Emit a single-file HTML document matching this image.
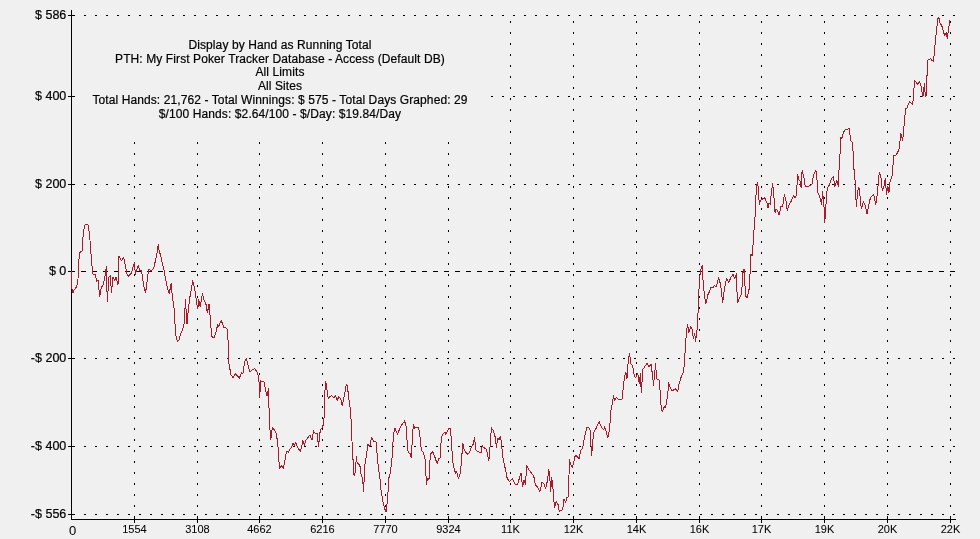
<!DOCTYPE html><html><head><meta charset="utf-8"><style>html,body{margin:0;padding:0;background:#f0f0f0;}svg{display:block;will-change:transform;}text{font-family:"Liberation Sans",sans-serif;font-size:12px;fill:#000;stroke:#000;stroke-width:0.2px;}.yl{font-size:12.5px;}.xl{font-size:11px;stroke-width:0.05px;}.tl{letter-spacing:0.1px;}</style></head><body>
<svg width="980" height="539" viewBox="0 0 980 539">
<rect x="0" y="0" width="980" height="539" fill="#f0f0f0"/>
<g shape-rendering="crispEdges"><line x1="134.5" y1="21" x2="134.5" y2="508" stroke="#000" stroke-width="1" stroke-dasharray="2 9"/><line x1="197.5" y1="21" x2="197.5" y2="508" stroke="#000" stroke-width="1" stroke-dasharray="2 9"/><line x1="259.5" y1="21" x2="259.5" y2="508" stroke="#000" stroke-width="1" stroke-dasharray="2 9"/><line x1="322.5" y1="21" x2="322.5" y2="508" stroke="#000" stroke-width="1" stroke-dasharray="2 9"/><line x1="385.5" y1="21" x2="385.5" y2="508" stroke="#000" stroke-width="1" stroke-dasharray="2 9"/><line x1="448.5" y1="21" x2="448.5" y2="508" stroke="#000" stroke-width="1" stroke-dasharray="2 9"/><line x1="510.5" y1="21" x2="510.5" y2="508" stroke="#000" stroke-width="1" stroke-dasharray="2 9"/><line x1="573.5" y1="21" x2="573.5" y2="508" stroke="#000" stroke-width="1" stroke-dasharray="2 9"/><line x1="636.5" y1="21" x2="636.5" y2="508" stroke="#000" stroke-width="1" stroke-dasharray="2 9"/><line x1="699.5" y1="21" x2="699.5" y2="508" stroke="#000" stroke-width="1" stroke-dasharray="2 9"/><line x1="761.5" y1="21" x2="761.5" y2="508" stroke="#000" stroke-width="1" stroke-dasharray="2 9"/><line x1="824.5" y1="21" x2="824.5" y2="508" stroke="#000" stroke-width="1" stroke-dasharray="2 9"/><line x1="887.5" y1="21" x2="887.5" y2="508" stroke="#000" stroke-width="1" stroke-dasharray="2 9"/><line x1="950.5" y1="21" x2="950.5" y2="508" stroke="#000" stroke-width="1" stroke-dasharray="2 9"/><line x1="84" y1="15.5" x2="956" y2="15.5" stroke="#000" stroke-width="1" stroke-dasharray="2 9"/><line x1="84" y1="96.5" x2="956" y2="96.5" stroke="#000" stroke-width="1" stroke-dasharray="2 9"/><line x1="84" y1="184.5" x2="956" y2="184.5" stroke="#000" stroke-width="1" stroke-dasharray="2 9"/><line x1="84" y1="358.5" x2="956" y2="358.5" stroke="#000" stroke-width="1" stroke-dasharray="2 9"/><line x1="84" y1="446.5" x2="956" y2="446.5" stroke="#000" stroke-width="1" stroke-dasharray="2 9"/><line x1="84" y1="514.5" x2="956" y2="514.5" stroke="#000" stroke-width="1" stroke-dasharray="2 9"/><line x1="81" y1="271.5" x2="956" y2="271.5" stroke="#000" stroke-width="1" stroke-dasharray="5 6"/></g>
<rect x="72" y="17" width="414" height="123" fill="#f0f0f0"/>
<g shape-rendering="crispEdges"><line x1="71.5" y1="10" x2="71.5" y2="520" stroke="#000" stroke-width="1"/><line x1="71" y1="519.5" x2="956" y2="519.5" stroke="#000" stroke-width="1"/><line x1="68" y1="15.5" x2="75" y2="15.5" stroke="#000" stroke-width="1"/><line x1="68" y1="96.5" x2="75" y2="96.5" stroke="#000" stroke-width="1"/><line x1="68" y1="184.5" x2="75" y2="184.5" stroke="#000" stroke-width="1"/><line x1="68" y1="271.5" x2="75" y2="271.5" stroke="#000" stroke-width="1"/><line x1="68" y1="358.5" x2="75" y2="358.5" stroke="#000" stroke-width="1"/><line x1="68" y1="446.5" x2="75" y2="446.5" stroke="#000" stroke-width="1"/><line x1="68" y1="514.5" x2="75" y2="514.5" stroke="#000" stroke-width="1"/><line x1="134.5" y1="516" x2="134.5" y2="523" stroke="#000" stroke-width="1"/><line x1="197.5" y1="516" x2="197.5" y2="523" stroke="#000" stroke-width="1"/><line x1="259.5" y1="516" x2="259.5" y2="523" stroke="#000" stroke-width="1"/><line x1="322.5" y1="516" x2="322.5" y2="523" stroke="#000" stroke-width="1"/><line x1="385.5" y1="516" x2="385.5" y2="523" stroke="#000" stroke-width="1"/><line x1="448.5" y1="516" x2="448.5" y2="523" stroke="#000" stroke-width="1"/><line x1="510.5" y1="516" x2="510.5" y2="523" stroke="#000" stroke-width="1"/><line x1="573.5" y1="516" x2="573.5" y2="523" stroke="#000" stroke-width="1"/><line x1="636.5" y1="516" x2="636.5" y2="523" stroke="#000" stroke-width="1"/><line x1="699.5" y1="516" x2="699.5" y2="523" stroke="#000" stroke-width="1"/><line x1="761.5" y1="516" x2="761.5" y2="523" stroke="#000" stroke-width="1"/><line x1="824.5" y1="516" x2="824.5" y2="523" stroke="#000" stroke-width="1"/><line x1="887.5" y1="516" x2="887.5" y2="523" stroke="#000" stroke-width="1"/><line x1="950.5" y1="516" x2="950.5" y2="523" stroke="#000" stroke-width="1"/></g>
<path d="M71.0 271.0 L71.0 276.0 L71.5 287.0 L73.0 292.7 L74.2 289.6 L76.2 287.5 L77.0 285.0 L78.2 277.3 L79.3 252.7 L81.3 251.6 L82.3 250.6 L83.3 232.0 L84.9 225.0 L86.0 224.6 L88.0 224.6 L89.5 234.0 L90.5 246.5 L91.5 261.0 L92.5 271.0 L93.0 274.3 L95.5 274.3 L96.6 281.4 L98.0 280.0 L99.7 296.7 L101.2 287.6 L103.0 285.5 L104.8 277.3 L106.3 266.6 L107.3 301.8 L108.9 277.3 L110.4 275.3 L111.4 292.7 L113.0 277.3 L115.0 280.4 L116.0 277.3 L118.0 284.5 L119.0 256.0 L121.6 260.8 L123.7 257.0 L127.2 275.3 L128.2 276.3 L131.3 273.3 L134.4 262.3 L135.4 274.3 L138.4 265.0 L139.5 271.0 L141.5 270.2 L143.6 285.5 L145.6 292.7 L147.6 277.3 L148.7 269.2 L151.0 271.0 L153.8 268.2 L155.8 258.8 L157.3 251.6 L158.3 244.0 L159.4 253.7 L160.4 253.7 L161.9 261.0 L162.9 266.0 L164.0 270.2 L165.6 279.4 L167.1 286.5 L169.2 293.7 L171.2 283.5 L171.7 290.6 L173.3 302.9 L174.3 310.1 L175.3 329.5 L176.3 338.7 L177.9 341.2 L179.4 339.7 L180.4 333.6 L182.0 331.5 L184.0 324.4 L185.5 299.8 L186.5 318.0 L187.0 324.4 L188.0 313.0 L189.6 298.8 L191.1 290.6 L192.7 280.4 L193.7 284.5 L195.2 291.6 L196.7 302.9 L197.8 309.0 L198.8 299.8 L200.3 307.0 L202.3 293.7 L203.9 299.8 L205.9 303.9 L207.4 313.0 L209.0 303.9 L210.5 320.3 L211.5 335.6 L212.6 337.7 L214.0 337.7 L216.1 331.5 L217.7 324.4 L218.7 326.4 L221.2 320.3 L223.8 327.4 L225.3 327.4 L227.3 329.5 L228.4 345.8 L228.7 362.3 L230.2 370.5 L230.7 374.6 L233.3 377.7 L235.3 373.6 L237.3 375.6 L239.4 378.2 L241.4 372.6 L243.0 373.6 L244.5 362.3 L246.5 358.3 L248.1 365.4 L249.6 372.0 L251.6 370.5 L254.7 368.5 L256.7 371.5 L258.8 377.7 L259.3 387.9 L259.6 398.0 L260.8 380.7 L261.8 381.7 L263.9 381.7 L265.4 388.9 L266.9 396.0 L268.5 388.9 L268.8 403.3 L269.8 427.8 L270.8 440.0 L272.3 427.8 L274.2 429.8 L275.9 432.9 L276.9 437.9 L277.8 443.3 L278.8 460.6 L279.8 468.8 L281.3 465.7 L283.4 468.3 L284.9 460.6 L286.4 451.4 L288.5 452.4 L290.5 448.4 L292.0 446.3 L293.1 443.3 L294.6 445.3 L295.6 442.2 L297.7 447.3 L300.2 451.4 L301.7 447.3 L302.8 440.2 L304.3 445.3 L305.8 440.2 L309.9 435.1 L311.9 440.2 L313.5 431.0 L315.0 433.1 L317.0 433.1 L318.6 446.3 L320.3 429.8 L322.3 427.8 L323.9 422.7 L324.5 399.7 L325.5 381.3 L326.5 384.4 L327.6 395.6 L328.6 398.7 L329.6 396.6 L331.6 395.6 L333.7 397.7 L335.7 395.6 L337.2 400.7 L338.8 396.6 L340.8 398.7 L342.3 405.8 L343.9 397.7 L345.4 389.5 L346.4 384.4 L347.4 386.4 L348.5 395.6 L349.5 404.8 L350.4 408.4 L351.4 425.7 L352.0 441.4 L352.8 455.5 L353.8 474.9 L354.8 475.9 L355.6 465.0 L356.6 456.7 L357.1 462.9 L358.7 463.9 L360.2 466.9 L361.2 475.2 L362.8 478.3 L363.3 491.5 L364.3 478.3 L364.8 465.9 L366.3 455.7 L367.9 444.5 L369.9 446.5 L371.4 437.3 L374.0 441.4 L376.0 441.4 L377.0 452.7 L378.6 470.0 L379.6 475.2 L381.1 490.5 L382.7 500.7 L384.7 508.9 L386.2 512.0 L387.8 495.6 L388.8 478.3 L390.3 473.2 L391.3 465.0 L391.8 460.8 L393.4 435.3 L394.9 428.2 L397.4 434.3 L401.0 426.1 L404.6 421.0 L406.1 426.1 L407.7 450.6 L408.7 452.7 L410.2 453.7 L411.2 457.8 L413.3 424.1 L414.8 428.2 L417.9 427.1 L419.4 431.2 L421.4 450.6 L423.4 452.7 L425.5 460.8 L426.3 484.4 L427.6 478.3 L429.0 479.3 L429.6 465.0 L430.6 453.7 L432.7 451.6 L434.7 456.7 L437.2 463.9 L438.8 458.8 L440.3 457.8 L441.3 437.3 L442.9 434.3 L444.9 432.2 L445.9 434.3 L448.6 428.3 L450.6 428.8 L451.6 445.6 L452.7 460.9 L454.2 469.2 L455.7 473.3 L456.7 471.2 L458.3 478.4 L459.8 475.3 L460.8 469.2 L461.8 455.8 L462.9 443.6 L463.9 448.7 L465.4 451.7 L468.0 454.3 L469.5 452.8 L471.0 447.7 L473.0 444.6 L474.6 437.4 L475.6 449.7 L478.2 451.7 L481.2 452.8 L482.2 445.6 L483.8 447.7 L485.8 448.7 L486.8 450.7 L488.9 460.9 L489.9 448.7 L491.4 427.8 L493.0 430.3 L495.0 436.4 L496.5 447.7 L497.6 438.5 L499.1 439.5 L500.6 436.4 L501.6 445.6 L503.2 459.9 L505.2 468.2 L507.2 478.4 L509.3 481.4 L512.3 478.9 L515.4 484.5 L517.4 485.0 L519.5 477.9 L521.0 473.3 L522.6 486.5 L524.1 479.9 L525.6 484.5 L526.6 465.1 L528.7 469.2 L530.7 472.2 L533.8 476.3 L535.3 484.5 L537.9 487.6 L539.9 491.6 L542.0 482.6 L544.0 483.6 L545.6 488.7 L547.7 479.5 L548.7 469.3 L549.7 475.4 L550.7 491.7 L551.7 477.4 L552.8 485.6 L553.8 499.9 L554.6 507.5 L556.1 501.7 L557.9 504.0 L559.3 511.2 L561.9 510.4 L562.9 507.5 L564.1 498.8 L565.5 502.5 L567.0 497.4 L568.4 496.7 L568.8 480.0 L569.6 459.6 L570.5 464.5 L572.4 467.6 L573.9 461.5 L574.8 456.6 L576.0 455.3 L577.5 457.0 L579.1 459.0 L580.6 451.0 L582.8 447.4 L584.3 438.8 L586.8 427.0 L588.4 427.0 L590.4 430.6 L590.9 443.9 L591.7 455.3 L592.6 443.7 L593.5 432.7 L595.5 429.6 L599.1 421.4 L601.6 427.6 L603.7 429.6 L604.7 426.5 L607.8 437.8 L609.3 430.6 L610.3 420.4 L610.6 411.8 L612.2 404.5 L613.5 395.5 L614.7 400.4 L616.3 397.1 L618.4 399.6 L622.0 399.6 L623.5 384.8 L625.0 374.6 L626.0 372.6 L627.0 378.7 L627.6 369.5 L628.6 357.2 L629.6 353.2 L630.6 363.4 L632.7 365.4 L634.2 375.6 L635.7 377.6 L637.8 373.6 L639.3 383.8 L640.3 373.6 L641.3 392.2 L642.9 369.5 L644.9 366.4 L646.9 363.4 L649.0 366.4 L651.0 364.4 L652.6 375.6 L653.5 385.7 L655.6 363.4 L656.6 378.7 L659.2 380.2 L660.4 393.9 L661.2 408.6 L662.4 411.8 L664.5 406.1 L665.5 407.7 L667.8 393.9 L668.6 382.4 L670.4 387.9 L671.8 390.6 L674.0 389.8 L675.5 388.9 L677.6 392.0 L679.1 383.8 L681.6 375.6 L683.7 371.5 L684.7 358.3 L685.6 343.9 L686.6 330.6 L687.7 324.5 L688.7 332.7 L690.7 326.5 L692.2 329.5 L693.3 338.8 L694.8 333.7 L695.8 341.8 L696.3 332.7 L697.4 328.6 L697.9 317.3 L698.4 300.0 L699.7 277.4 L700.7 270.3 L702.2 265.2 L703.3 285.6 L704.8 297.9 L705.8 304.0 L707.9 294.8 L709.4 291.7 L710.9 287.7 L712.9 287.7 L714.5 285.6 L716.5 286.6 L718.6 277.4 L720.6 284.6 L722.7 303.0 L723.7 293.8 L725.2 284.6 L726.7 278.5 L728.8 282.6 L730.8 277.4 L732.9 274.4 L734.9 278.5 L736.4 273.4 L737.4 303.0 L740.0 296.8 L741.5 293.8 L743.1 271.3 L744.1 269.3 L745.6 295.8 L747.1 297.9 L749.2 288.7 L750.2 270.3 L750.8 254.0 L752.3 256.0 L753.4 239.7 L754.4 224.4 L755.2 215.0 L756.2 190.6 L757.2 182.4 L758.2 186.5 L759.3 204.9 L760.3 200.8 L762.9 198.8 L764.9 197.8 L766.9 202.9 L768.0 208.0 L769.0 202.9 L770.5 204.9 L771.0 195.7 L772.6 183.5 L773.6 192.7 L774.6 204.9 L775.1 213.1 L776.1 209.0 L777.7 211.0 L779.2 215.0 L780.7 206.9 L782.7 206.9 L784.3 194.7 L785.8 199.8 L787.3 211.0 L788.9 204.9 L790.9 201.8 L793.5 195.7 L795.0 197.8 L796.0 195.7 L797.0 185.5 L797.6 174.3 L799.1 180.4 L800.6 181.4 L801.1 187.6 L802.1 170.2 L803.7 176.3 L805.2 186.5 L807.2 186.5 L810.3 185.5 L812.3 183.5 L813.4 175.3 L815.9 170.2 L816.9 178.4 L818.0 192.7 L820.5 198.8 L821.5 204.9 L822.6 191.6 L824.1 208.0 L824.8 222.3 L825.8 208.0 L826.6 192.7 L828.2 186.5 L829.7 184.5 L831.2 179.4 L833.3 176.3 L834.8 186.5 L836.8 180.4 L838.4 186.5 L839.4 160.0 L839.9 158.8 L840.4 137.3 L841.9 138.4 L843.5 132.2 L845.5 129.2 L847.5 129.2 L849.1 128.2 L850.1 135.3 L851.1 141.4 L852.7 142.4 L853.2 155.7 L854.3 174.2 L855.3 182.3 L855.8 194.6 L856.3 206.8 L857.3 195.6 L858.4 187.4 L859.4 189.4 L860.4 200.7 L861.4 208.9 L863.5 201.7 L865.5 205.8 L867.0 214.0 L868.1 208.9 L869.6 200.7 L871.1 196.6 L873.7 194.6 L875.7 204.8 L877.2 194.6 L878.3 183.4 L879.3 172.1 L880.8 176.2 L882.3 190.5 L883.9 186.4 L885.4 178.3 L886.4 194.6 L887.9 186.4 L889.0 192.6 L890.0 182.3 L891.5 177.2 L892.5 174.2 L893.5 155.7 L895.5 155.7 L897.6 152.7 L899.1 148.6 L900.1 140.4 L900.6 133.3 L901.6 136.3 L902.7 140.4 L903.7 129.2 L904.7 120.0 L905.0 115.0 L906.0 108.0 L907.0 108.0 L908.1 104.9 L909.6 101.8 L912.7 104.9 L913.7 91.6 L914.7 80.4 L917.8 84.5 L919.3 81.4 L920.8 84.5 L921.8 90.6 L922.9 96.7 L924.4 83.5 L925.4 96.7 L926.4 95.7 L926.9 79.4 L927.4 63.0 L928.0 60.0 L930.5 58.5 L931.5 60.0 L933.6 61.1 L934.6 48.8 L935.6 38.6 L936.6 30.4 L937.7 19.2 L938.7 17.2 L940.2 23.3 L941.7 25.3 L943.3 31.5 L944.8 35.6 L946.3 32.5 L947.3 38.6 L948.9 26.4 L949.9 20.2" fill="none" stroke="#ac1a2a" stroke-width="1" stroke-linejoin="round" shape-rendering="crispEdges"/>
<text class="yl" x="66.3" y="19.3" text-anchor="end">$ 586</text>
<text class="yl" x="66.3" y="100.3" text-anchor="end">$ 400</text>
<text class="yl" x="66.3" y="188.3" text-anchor="end">$ 200</text>
<text class="yl" x="66.3" y="275.3" text-anchor="end">$ 0</text>
<text class="yl" x="66.3" y="362.3" text-anchor="end">-$ 200</text>
<text class="yl" x="66.3" y="450.3" text-anchor="end">-$ 400</text>
<text class="yl" x="66.3" y="518.3" text-anchor="end">-$ 556</text>
<text class="xl" x="134.5" y="533" text-anchor="middle">1554</text>
<text class="xl" x="197.5" y="533" text-anchor="middle">3108</text>
<text class="xl" x="259.5" y="533" text-anchor="middle">4662</text>
<text class="xl" x="322.5" y="533" text-anchor="middle">6216</text>
<text class="xl" x="385.5" y="533" text-anchor="middle">7770</text>
<text class="xl" x="448.5" y="533" text-anchor="middle">9324</text>
<text class="xl" x="510.5" y="533" text-anchor="middle">11K</text>
<text class="xl" x="573.5" y="533" text-anchor="middle">12K</text>
<text class="xl" x="636.5" y="533" text-anchor="middle">14K</text>
<text class="xl" x="699.5" y="533" text-anchor="middle">16K</text>
<text class="xl" x="761.5" y="533" text-anchor="middle">17K</text>
<text class="xl" x="824.5" y="533" text-anchor="middle">19K</text>
<text class="xl" x="887.5" y="533" text-anchor="middle">20K</text>
<text class="xl" x="950.5" y="533" text-anchor="middle">22K</text>
<text x="72.6" y="535" text-anchor="middle" style="font-size:13px;stroke-width:0.05px">0</text>
<text class="tl" x="280" y="48.7" text-anchor="middle">Display by Hand as Running Total</text>
<text class="tl" x="280" y="62.5" text-anchor="middle">PTH: My First Poker Tracker Database - Access (Default DB)</text>
<text class="tl" x="280" y="76.3" text-anchor="middle">All Limits</text>
<text class="tl" x="280" y="90.1" text-anchor="middle">All Sites</text>
<text class="tl" x="280" y="103.9" text-anchor="middle">Total Hands: 21,762 - Total Winnings: $ 575 - Total Days Graphed: 29</text>
<text class="tl" x="280" y="117.7" text-anchor="middle">$/100 Hands: $2.64/100 - $/Day: $19.84/Day</text>
</svg></body></html>
